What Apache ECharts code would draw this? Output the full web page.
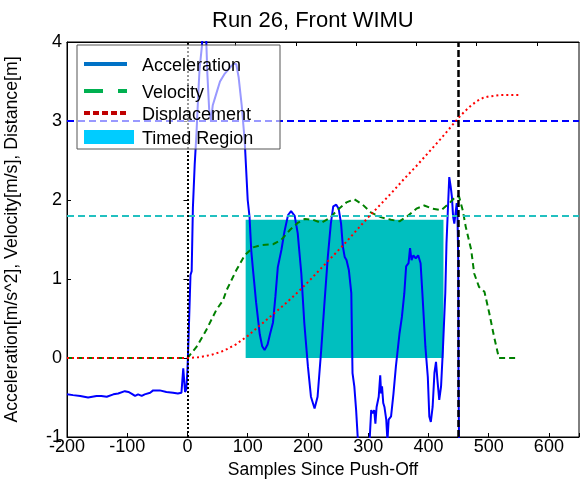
<!DOCTYPE html>
<html>
<head>
<meta charset="utf-8">
<script src="https://cdn.jsdelivr.net/npm/echarts@6/dist/echarts.min.js"></script>
<style>
html,body{margin:0;padding:0;background:#fff;}
#chart{width:580px;height:484px;}
</style>
</head>
<body>
<div id="chart"></div>
<script>
// ---- data ----
var titleText = 'Run 26, Front WIMU';
var xAxisName = 'Samples Since Push-Off';
var yAxisName = 'Acceleration[m/s^2], Velocity[m/s], Distance[m]';
var legendNames = ['Acceleration', 'Velocity', 'Displacement', 'Timed Region'];

var accSamples = [-200,-190,-178,-165,-151,-143,-134,-123,-115,-104,-98,-93,-87,-82,-76,-71,-62,-57,-46,-35,-24,-16,-10,-7,-4,-2,0,2,4,5,7,9,12,15,18,20,24,27,30,33,36,39,42,48,54,62,70,76,81,85,90,95,100,103,106,109,114,120,124,128,133,137,142,146,150,156,161,167,172,178,183,189,194,200,205,211,216,222,227,233,238,242,247,251,255,258,261,264,268,272,274,277,280,283,290,302,305,307.5,310,312,314,317.5,320,321.5,323,325,327,330,332,334,338,342,346,352,356,360,363,367,369.5,372,375,379,383,387,390,395,399,401.5,404,407,410,412.6,415,418,421,424,428,430,433,434.6,437,439,441,443,445,447,448.4,449.5,450,451];
var accValues  = [-0.46,-0.47,-0.48,-0.50,-0.48,-0.48,-0.49,-0.46,-0.45,-0.42,-0.43,-0.45,-0.48,-0.46,-0.48,-0.46,-0.44,-0.41,-0.41,-0.43,-0.44,-0.45,-0.44,-0.13,-0.43,-0.40,-0.15,0.30,0.80,1.05,1.10,1.90,2.45,2.85,3.35,3.65,3.95,4.40,4.30,3.60,3.15,3.00,3.20,3.35,3.50,3.60,3.67,3.72,3.72,3.55,3.20,2.75,2.00,1.79,1.35,1.10,0.70,0.30,0.15,0.10,0.17,0.30,0.45,0.78,1.15,1.37,1.60,1.81,1.86,1.80,1.58,1.07,0.44,-0.11,-0.49,-0.64,-0.49,0.10,0.65,1.28,1.70,1.92,1.94,1.89,1.70,1.41,1.28,1.24,1.11,0.82,-0.19,-0.36,-0.66,-1.05,-1.10,-1.10,-0.66,-0.70,-0.66,-0.83,-0.62,-0.49,-0.22,-0.45,-0.36,-0.57,-0.62,-0.78,-1.05,-0.78,-0.74,-0.45,-0.11,0.31,0.52,0.82,1.16,1.20,1.39,1.24,1.30,1.26,1.30,1.20,0.82,0.14,-0.24,-0.74,-0.81,-0.62,-0.19,-0.05,-0.28,-0.53,-0.36,0.10,0.82,1.45,2.00,2.29,2.17,2.04,1.79,1.70,1.83,1.96,1.75,1.24,-0.30,-1.20];

var velSamples = [-200,0,15,31,48,59,65,81,95,109,122,142,155,170,183,195,208,222,236,250,264,277,291,305,322,338,352,366,380,393,407,421,435,446,451,457,462,471,476,484,493,501,509,517,550];
var velValues  = [0,0,0.14,0.35,0.61,0.73,0.86,1.11,1.30,1.40,1.43,1.44,1.49,1.62,1.71,1.76,1.75,1.71,1.77,1.88,1.97,2.01,1.94,1.84,1.78,1.75,1.73,1.80,1.89,1.93,1.89,1.87,1.96,2.05,2.04,1.87,1.66,1.37,1.07,0.90,0.84,0.57,0.27,0,0];

var dispSamples = [-200,0,20,40,60,80,100,120,140,160,180,200,220,240,260,280,300,320,340,360,380,400,420,440,450,460,470,480,490,500,510,520,550];
var dispValues  = [0,0,0.01,0.04,0.09,0.17,0.28,0.41,0.54,0.67,0.81,0.96,1.12,1.28,1.44,1.61,1.78,1.94,2.10,2.27,2.43,2.60,2.77,2.95,3.04,3.12,3.19,3.25,3.29,3.31,3.32,3.33,3.33];

var timedStart = 96.6, timedEnd = 425, timedTop = 1.75;
var pushOffSample = 0, finishSample = 450;
var accThreshold = 3, velThreshold = 1.8;

var xTicks = [-200,-100,0,100,200,300,400,500,600];
var topTicks = [80,180,280,380,480,580];
var yTicks = [-1,0,1,2,3,4];

function pairs(xs, ys){ return xs.map(function(x,i){ return [x, ys[i]]; }); }

var FONT = 'Liberation Sans';
var chart = echarts.init(document.getElementById('chart'), null, {renderer:'canvas'});

var option = {
  animation: false,
  backgroundColor: '#fff',
  textStyle: {fontFamily: FONT},
  title: {
    text: titleText, left: 207, top: 5,
    textStyle: {fontFamily: FONT, fontSize: 22, fontWeight: 'normal', color: '#000'}
  },
  grid: {left: 67, right: 1, top: 42, bottom: 47, outerBoundsMode: 'none', containLabel: false,
         show: true, borderColor: '#000', borderWidth: 1, backgroundColor: 'transparent'},
  xAxis: [{
    type: 'value', min: -200, max: 650, interval: 100,
    name: xAxisName, nameLocation: 'middle', nameGap: 20,
    nameTextStyle: {fontFamily: FONT, fontSize: 17.5, color: '#000'},
    axisLine: {show: true, onZero: false, lineStyle: {color: '#000', width: 1}},
    axisTick: {show: true, inside: true, length: 4, lineStyle: {color: '#000'}},
    axisLabel: {fontFamily: FONT, fontSize: 18, color: '#000', margin: 1,
      formatter: function(v){ return xTicks.indexOf(v) >= 0 ? String(v) : ''; }},
    splitLine: {show: false}
  }, {
    type: 'value', min: -200, max: 650, position: 'top',
    axisLine: {show: true, onZero: false, lineStyle: {color: '#000', width: 1}},
    axisTick: {show: true, inside: true, length: 4, lineStyle: {color: '#000'}, customValues: topTicks},
    axisLabel: {show: false}, splitLine: {show: false}
  }],
  yAxis: [{
    type: 'value', min: -1, max: 4, interval: 1,
    name: yAxisName, nameLocation: 'middle', nameGap: 46, nameRotate: 90,
    nameTextStyle: {fontFamily: FONT, fontSize: 17.7, color: '#000'},
    axisLine: {show: true, onZero: false, lineStyle: {color: '#000', width: 1}},
    axisTick: {show: true, inside: true, length: 4, lineStyle: {color: '#000'}},
    axisLabel: {fontFamily: FONT, fontSize: 18, color: '#000', margin: 5,
      formatter: function(v){ return yTicks.indexOf(v) >= 0 ? String(v) : ''; }},
    splitLine: {show: false}
  }, {
    type: 'value', min: -1, max: 4, interval: 1, position: 'right',
    axisLine: {show: false},
    axisTick: {show: true, inside: true, length: 4, lineStyle: {color: '#000'}},
    axisLabel: {show: false}, splitLine: {show: false}
  }],
  series: [
    {
      name: legendNames[3], type: 'line', data: [], z: 1, silent: true,
      markArea: {
        silent: true,
        itemStyle: {color: '#00BFBF', opacity: 1},
        data: [[{xAxis: timedStart, yAxis: 0}, {xAxis: timedEnd, yAxis: timedTop}]]
      }
    },
    {
      name: 'refH', type: 'line', data: [], z: 2, silent: true,
      markLine: {
        silent: true, symbol: 'none', label: {show: false}, animation: false,
        data: [
          {yAxis: accThreshold, lineStyle: {color: '#0000FF', width: 2, type: [7, 4]}},
          {yAxis: velThreshold, lineStyle: {color: '#22C0C0', width: 2, type: [7, 4]}}
        ]
      }
    },
    {
      name: legendNames[0], type: 'line', data: pairs(accSamples, accValues), z: 3,
      showSymbol: false, symbol: 'none', clip: true,
      lineStyle: {color: '#0000FF', width: 2}
    },
    {
      name: legendNames[1], type: 'line', data: pairs(velSamples, velValues), z: 4,
      showSymbol: false, symbol: 'none', clip: true,
      lineStyle: {color: '#008000', width: 2, type: [6, 4]}
    },
    {
      name: legendNames[2], type: 'line', data: pairs(dispSamples, dispValues), z: 5,
      showSymbol: false, symbol: 'none', clip: true,
      lineStyle: {color: '#FF0000', width: 2, type: [2, 3]}
    },
    {
      name: 'refV', type: 'line', data: [], z: 6, silent: true,
      markLine: {
        silent: true, symbol: 'none', label: {show: false}, animation: false,
        data: [
          {xAxis: pushOffSample, lineStyle: {color: '#000', width: 2, type: [2, 2]}},
          {xAxis: finishSample, lineStyle: {color: '#000', width: 2.5, type: [7, 3]}}
        ]
      }
    }
  ]
};

chart.setOption(option);

// Legend box drawn as graphic
var lx = 77, ly = 45, lw = 203, lh = 104;
var rowY = [19, 46, 68, 92];
var g = [
  {type: 'rect', z: 100, shape: {x: lx, y: ly, width: lw, height: lh},
   style: {fill: 'rgba(255,255,255,0.6)', stroke: '#555', lineWidth: 1}},
  {type: 'line', z: 101, shape: {x1: lx + 7, y1: ly + rowY[0], x2: lx + 50, y2: ly + rowY[0]},
   style: {stroke: '#0072C6', lineWidth: 4}},
  {type: 'line', z: 101, shape: {x1: lx + 7, y1: ly + rowY[1], x2: lx + 50, y2: ly + rowY[1]},
   style: {stroke: '#00B050', lineWidth: 4, lineDash: [19, 15]}},
  {type: 'line', z: 101, shape: {x1: lx + 7, y1: ly + rowY[2], x2: lx + 50, y2: ly + rowY[2]},
   style: {stroke: '#C00000', lineWidth: 4, lineDash: [6, 3]}},
  {type: 'rect', z: 101, shape: {x: lx + 7, y: ly + rowY[3] - 7, width: 50, height: 14},
   style: {fill: '#00CCFF'}}
];
for (var i = 0; i < 4; i++) {
  g.push({type: 'text', z: 101, x: lx + 65, y: ly + rowY[i] + 2,
    style: {text: legendNames[i], fontFamily: FONT, fontSize: 18, fill: '#000',
            verticalAlign: 'middle', align: 'left'}});
}
chart.setOption({graphic: g});
</script>
</body>
</html>
